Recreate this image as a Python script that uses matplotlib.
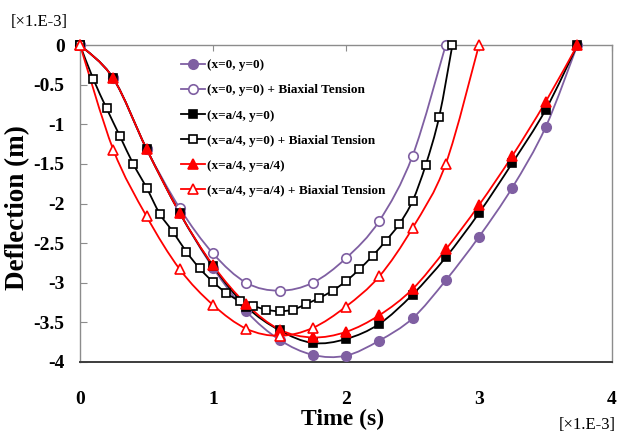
import numpy as np
import matplotlib.pyplot as plt
from matplotlib.path import Path
from matplotlib.patches import PathPatch
from matplotlib.lines import Line2D

# time axis samples (x1e-3 s)
t_plain = [0, 0.25, 0.5, 0.75, 1.0, 1.25, 1.5, 1.75, 2.0, 2.25, 2.5, 2.75, 3.0, 3.25, 3.5, 3.74]
t_center_bt = [0, 0.25, 0.5, 0.75, 1.0, 1.25, 1.5, 1.75, 2.0, 2.25, 2.5, 2.75]
t_quarter_bt = [0, 0.1, 0.2, 0.3, 0.4, 0.5, 0.6, 0.7, 0.8, 0.9, 1.0, 1.1, 1.2, 1.3, 1.4,
                1.5, 1.6, 1.7, 1.8, 1.9, 2.0, 2.1, 2.2, 2.3, 2.4, 2.5, 2.6, 2.7, 2.8]
t_diag_bt = [0, 0.25, 0.5, 0.75, 1.0, 1.25, 1.5, 1.75, 2.0, 2.25, 2.5, 2.75, 3.0]

# deflection (x1e-3 m)
w_center = [0, -0.42, -1.31, -2.12, -2.81, -3.36, -3.72, -3.91, -3.92, -3.73, -3.45, -2.97, -2.42, -1.80, -1.04, 0]
w_center_bt = [0, -0.42, -1.31, -2.06, -2.63, -3.00, -3.10, -3.00, -2.69, -2.22, -1.40, 0]
w_quarter = [0, -0.42, -1.31, -2.12, -2.79, -3.30, -3.60, -3.76, -3.71, -3.52, -3.15, -2.68, -2.12, -1.49, -0.82, 0]
w_quarter_bt = [0, -0.43, -0.80, -1.15, -1.50, -1.80, -2.13, -2.36, -2.61, -2.82, -2.99, -3.13, -3.23, -3.29,
                -3.34, -3.36, -3.34, -3.27, -3.19, -3.10, -2.98, -2.83, -2.66, -2.47, -2.26, -1.97, -1.51,
                -0.91, 0]
w_diag = [0, -0.42, -1.31, -2.12, -2.78, -3.27, -3.59, -3.69, -3.62, -3.41, -3.08, -2.58, -2.02, -1.40, -0.72, 0]
w_diag_bt = [0, -1.32, -2.16, -2.83, -3.28, -3.58, -3.67, -3.57, -3.30, -2.92, -2.31, -1.50, 0]

labels = ['(x=0, y=0)', '(x=0, y=0) + Biaxial Tension',
          '(x=a/4, y=0)', '(x=a/4, y=0) + Biaxial Tension',
          '(x=a/4, y=a/4)', '(x=a/4, y=a/4) + Biaxial Tension']

purple = '#7f5fa2'
red = '#ff0000'
black = '#000000'

series = [
    (t_plain, w_center, purple, 'o', purple),
    (t_center_bt, w_center_bt, purple, 'o', 'white'),
    (t_plain, w_quarter, black, 's', black),
    (t_quarter_bt, w_quarter_bt, black, 's', 'white'),
    (t_plain, w_diag, red, '^', red),
    (t_diag_bt, w_diag_bt, red, '^', 'white'),
]
msize = {'o': 6.8, 's': 5.8, '^': 7.0}

serif = 'Liberation Serif'


def smooth_path(x, y):
    # Catmull-Rom style bezier through the points, like a spreadsheet "smoothed line"
    pts = np.column_stack([x, y]).astype(float)
    n = len(pts)
    verts = [pts[0]]
    codes = [Path.MOVETO]
    for i in range(n - 1):
        p0 = pts[max(i - 1, 0)]
        p1 = pts[i]
        p2 = pts[i + 1]
        p3 = pts[min(i + 2, n - 1)]
        verts += [p1 + (p2 - p0) / 6, p2 - (p3 - p1) / 6, p2]
        codes += [Path.CURVE4] * 3
    return Path(verts, codes)


fig = plt.figure(figsize=(6.18, 4.32), dpi=100)
ax = fig.add_axes([80 / 618, 1 - 362 / 432, 532 / 618, 317 / 432])

handles = []
for (t, w, col, mk, face), lab in zip(series, labels):
    ax.add_patch(PathPatch(smooth_path(t, w), facecolor='none', edgecolor=col,
                           lw=1.3, zorder=2))
    ax.plot(t, w, ls='none', marker=mk, ms=msize[mk], mfc=face, mec=col,
            mew=1.2, zorder=3, clip_on=False)
    handles.append(Line2D([], [], color=col, lw=1.3, marker=mk, ms=msize[mk],
                          mfc=face, mec=col, mew=1.2))

ax.set_xlim(0, 4)
ax.set_ylim(-4, 0)
xt = [0, 1, 2, 3, 4]
yt = [0, -0.5, -1, -1.5, -2, -2.5, -3, -3.5, -4]
ax.set_xticks(xt)
ax.set_xticklabels(['{:g}'.format(v) for v in xt])
ax.set_yticks(yt)
ax.set_yticklabels(['{:g}'.format(v) for v in yt])

ax.tick_params(axis='x', top=True, bottom=False, labeltop=False, labelbottom=True,
               direction='in', length=4, color='#8c8c8c', pad=21)
ax.tick_params(axis='y', direction='in', length=5, color='#8c8c8c', pad=11)
for lbl in ax.get_xticklabels() + ax.get_yticklabels():
    lbl.set_fontfamily(serif)
    lbl.set_fontweight('bold')
    lbl.set_fontsize(14)

for side in ['left', 'top', 'right']:
    ax.spines[side].set_color('#8c8c8c')
    ax.spines[side].set_linewidth(1)
ax.spines['bottom'].set_color('#3c3c3c')
ax.spines['bottom'].set_linewidth(1.4)

leg = fig.legend(handles, labels, loc='upper left',
                 bbox_to_anchor=(181 / 618, 1 - 59 / 432), frameon=False,
                 borderpad=0, borderaxespad=0, handlelength=1.8, handletextpad=0.15,
                 labelspacing=0.98, prop={'family': serif, 'weight': 'bold', 'size': 9.5})

fig.text(18 / 618, 1 - 208 / 432, 'Deflection (m)', rotation=90, ha='center', va='center',
         fontsize=19.5, fontweight='bold', family=serif)
fig.text(343 / 618, 1 - 419 / 432, 'Time (s)', ha='center', va='center',
         fontsize=17, fontweight='bold', family=serif)
fig.text(39 / 618, 1 - 22 / 432, '[×1.E-3]', ha='center', va='center',
         fontsize=12, family=serif)
fig.text(616 / 618, 1 - 425 / 432, '[×1.E-3]', ha='right', va='center',
         fontsize=12, family=serif)

fig.savefig('out.png', dpi=100)
